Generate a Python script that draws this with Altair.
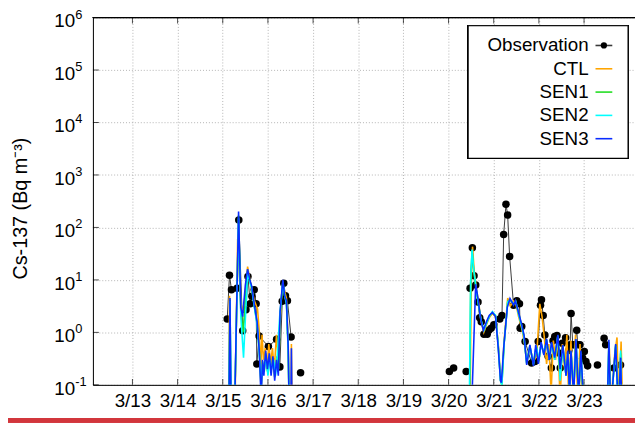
import altair as alt
import pandas as pd

# ---------------- data ----------------
obs_day = [15.099, 15.149, 15.193, 15.317, 15.355, 15.442, 15.514, 15.558, 15.608, 15.645,
           15.696, 15.739, 15.755, 15.805, 16.010, 16.192, 16.264, 16.317, 16.351, 16.389,
           16.432, 16.513,
           16.723,
           20.018, 20.112,
           20.390,
           20.477, 20.527, 20.564, 20.602, 20.652, 20.689, 20.724, 20.783, 20.855, 20.892,
           20.943, 21.002, 21.133, 21.183, 21.220, 21.271, 21.308, 21.352, 21.439, 21.511,
           21.570, 21.585, 21.620, 21.695, 21.839, 21.913, 21.985, 22.036, 22.057, 22.095,
           22.132, 22.204, 22.276, 22.313, 22.351, 22.401, 22.460, 22.473, 22.517, 22.591,
           22.663, 22.691, 22.713, 22.750, 22.787, 22.838, 22.860, 22.910, 22.969, 23.006,
           23.041, 23.079,
           23.297,
           23.444, 23.479,
           23.662,
           23.808]
obs_val = [1.8, 12.3, 6.5, 6.9, 139, 1.07, 2.7, 11.6, 3.5, 4.9,
           6.5, 3.5, 0.25, 0.85, 0.54, 0.74, 0.22, 3.9, 8.6, 5.0,
           4.0, 0.82,
           0.17,
           0.18, 0.21,
           0.18,
           6.9, 41, 12, 8, 3.8, 1.9, 1.6, 0.92, 0.92, 1.1,
           1.2, 1.4, 1.8, 2.1, 73, 277, 173, 28, 3.3, 4.0,
           3.5, 1.2, 1.3, 0.67, 0.26, 0.28, 0.67, 3.3, 4.2, 2.1,
           0.89, 0.35, 0.21, 0.69, 0.83, 0.87, 0.40, 0.21, 0.62, 0.79,
           0.45, 0.58, 2.3, 0.58, 0.58, 1.1, 0.58, 0.58, 0.32, 0.43,
           0.28, 0.23,
           0.24,
           0.77, 0.58,
           0.21,
           0.24]
obs_seg = [1] * 22 + [2] + [3, 3] + [4] + [5] * 52 + [6] + [7, 7] + [8] + [9]

ctl_day = [15.00, 15.13, 15.15, 15.18, 15.26, 15.33, 15.40, 15.46, 15.55, 15.62,
           15.70, 15.77, 15.81, 15.84, 15.87, 15.90, 15.94, 15.98, 16.02, 16.06,
           16.10, 16.14, 16.19, 16.23, 16.27, 16.32, 16.37, 16.41, 16.45, 16.48,
           16.51, 16.52, 16.54, 17.00,
           20.40, 20.47, 20.50, 20.53, 20.57, 20.62, 20.67, 20.72, 20.78, 20.84,
           20.90, 20.97, 21.04, 21.10, 21.15, 21.18, 21.23, 21.31, 21.37, 21.44,
           21.49, 21.55, 21.62, 21.67, 21.73, 21.80, 21.88, 21.95, 22.02, 22.07,
           22.12, 22.17, 22.22, 22.27, 22.32, 22.37, 22.42, 22.47, 22.52, 22.57,
           22.62, 22.66, 22.71, 22.76, 22.81, 22.86, 22.91, 22.96, 23.00, 23.50,
           23.56, 23.60, 23.68, 23.73, 23.77, 23.82, 23.87, 24.20]
ctl_val = [0.01, 0.01, 5.0, 0.01, 0.01, 60, 3.5, 2.5, 18, 8,
           4.0, 2.8, 1.0, 0.2, 0.9, 0.3, 0.5, 0.2, 0.6, 0.25,
           0.5, 0.2, 0.9, 0.3, 2.0, 8.0, 6.0, 4.5, 0.6, 0.01,
           0.01, 0.6, 0.01, 0.01,
           0.01, 0.01, 8, 43, 14, 6.5, 3.5, 1.6, 1.0, 1.4,
           1.9, 2.3, 2.0, 0.6, 0.15, 0.12, 0.7, 4.5, 3.2, 4.0,
           3.5, 2.0, 1.2, 0.7, 0.3, 0.5, 0.28, 0.35, 3.5, 2.0,
           0.8, 0.25, 0.6, 0.07, 0.7, 0.3, 0.8, 0.05, 0.6, 0.2,
           0.9, 0.05, 0.7, 0.05, 0.9, 0.05, 0.6, 0.04, 0.01, 0.01,
           0.5, 0.04, 0.4, 0.8, 0.04, 0.67, 0.01, 0.01]

sen1_day = [15.00, 15.13, 15.16, 15.19, 15.25, 15.35, 15.40, 15.45, 15.55, 15.60,
            15.64, 15.70, 15.76, 15.81, 15.85, 15.88, 15.92, 15.95, 15.99, 16.03,
            16.07, 16.11, 16.15, 16.20, 16.24, 16.27, 16.33, 16.37, 16.41, 16.45,
            16.48, 17.00,
            20.40, 20.46, 20.49, 20.52, 20.56, 20.61, 20.66, 20.72, 20.78, 20.84,
            20.90, 20.97, 21.04, 21.10, 21.15, 21.18, 21.23, 21.31, 21.36, 21.44,
            21.49, 21.55, 21.62, 21.67, 21.73, 21.80, 21.88, 21.94, 22.00, 22.05,
            22.11, 22.17, 22.23, 22.28, 22.35, 22.42, 22.47, 22.53, 22.60, 22.64,
            22.68, 22.71, 22.77, 22.82, 22.88, 22.93, 23.00, 23.05, 23.50, 23.55,
            23.59, 23.70, 23.76, 23.81, 23.85, 24.20]
sen1_val = [0.01, 0.01, 4.2, 0.01, 0.01, 170, 2.5, 1.0, 15, 9.5,
            7.3, 3.1, 1.5, 0.42, 0.08, 0.28, 0.18, 0.4, 0.18, 0.35,
            0.18, 0.32, 0.14, 0.35, 0.2, 2.2, 9.5, 5.0, 3.8, 0.45,
            0.01, 0.01,
            0.01, 0.01, 9, 36, 14, 6.5, 3.4, 1.7, 1.1, 1.5,
            2.0, 2.4, 2.1, 0.55, 0.12, 0.1, 0.6, 3.9, 4.2, 3.4,
            3.9, 2.3, 1.35, 0.85, 0.25, 0.56, 0.24, 0.56, 0.28, 0.62,
            0.38, 0.72, 0.3, 0.62, 0.32, 0.88, 0.15, 0.56, 0.15, 0.42,
            0.07, 0.43, 0.07, 0.72, 0.06, 0.42, 0.03, 0.01, 0.01, 0.65,
            0.03, 0.58, 0.03, 0.4, 0.01, 0.01]

sen2_day = [15.00, 15.13, 15.16, 15.19, 15.25, 15.35, 15.40, 15.46, 15.55, 15.60,
            15.64, 15.70, 15.76, 15.81, 15.85, 15.88, 15.92, 15.96, 16.00, 16.04,
            16.08, 16.13, 16.17, 16.21, 16.26, 16.33, 16.37, 16.41, 16.45, 16.48,
            17.00,
            20.40, 20.45, 20.49, 20.52, 20.56, 20.61, 20.66, 20.72, 20.78, 20.84,
            20.90, 20.97, 21.04, 21.10, 21.15, 21.18, 21.23, 21.31, 21.36, 21.44,
            21.49, 21.55, 21.62, 21.67, 21.73, 21.80, 21.88, 21.94, 22.00, 22.05,
            22.11, 22.17, 22.23, 22.28, 22.35, 22.42, 22.47, 22.53, 22.60, 22.64,
            22.68, 22.71, 22.77, 22.82, 22.88, 22.93, 23.00, 23.05, 23.50, 23.55,
            23.59, 23.70, 23.76, 23.81, 23.85, 24.20]
sen2_val = [0.01, 0.01, 4.0, 0.01, 0.01, 150, 2.0, 0.33, 14, 9,
            7.0, 3.0, 1.4, 0.4, 0.1, 0.25, 0.2, 0.35, 0.15, 0.3,
            0.2, 0.3, 0.15, 0.4, 2.0, 9.0, 5.0, 3.5, 0.4, 0.01,
            0.01,
            0.01, 0.01, 10, 38, 15, 7, 3.5, 1.7, 1.1, 1.5,
            2.0, 2.5, 2.1, 0.55, 0.12, 0.1, 0.6, 3.8, 4.2, 3.5,
            3.8, 2.2, 1.3, 0.8, 0.26, 0.55, 0.25, 0.55, 0.3, 0.6,
            0.4, 0.7, 0.3, 0.6, 0.3, 0.85, 0.12, 0.55, 0.15, 0.4,
            0.08, 0.42, 0.08, 0.7, 0.07, 0.4, 0.03, 0.01, 0.01, 0.6,
            0.03, 0.55, 0.03, 0.45, 0.01, 0.01]

sen3_day = [15.00, 15.13, 15.16, 15.19, 15.25, 15.35, 15.40, 15.44, 15.50, 15.55,
            15.60, 15.64, 15.70, 15.76, 15.81, 15.85, 15.88, 15.91, 15.95, 15.99,
            16.03, 16.07, 16.11, 16.15, 16.19, 16.23, 16.27, 16.33, 16.37, 16.41,
            16.45, 16.48, 16.50, 16.52, 16.54, 17.00,
            20.40, 20.49, 20.60, 20.65, 20.71, 20.77, 20.84, 20.90, 20.97, 21.04,
            21.10, 21.15, 21.17, 21.22, 21.30, 21.36, 21.44, 21.48, 21.55, 21.62,
            21.67, 21.73, 21.80, 21.88, 21.93, 21.99, 22.05, 22.11, 22.17, 22.23,
            22.28, 22.35, 22.42, 22.47, 22.53, 22.60, 22.64, 22.68, 22.71, 22.77,
            22.82, 22.88, 22.93, 23.00, 23.05, 23.50, 23.55, 23.59, 23.70, 23.76,
            23.81, 23.85, 24.20]
sen3_val = [0.01, 0.01, 4.5, 0.01, 0.01, 200, 3.0, 2.0, 8.0, 16,
            10, 7.7, 3.3, 1.6, 0.43, 0.05, 0.3, 0.15, 0.45, 0.2,
            0.4, 0.15, 0.35, 0.12, 0.3, 0.15, 2.5, 10, 5.0, 4.0,
            0.5, 0.01, 0.01, 0.5, 0.01, 0.01,
            0.01, 0.01, 8.3, 4.5, 1.8, 1.1, 1.6, 2.1, 2.4, 2.0,
            0.5, 0.12, 0.11, 0.5, 3.0, 4.4, 3.3, 4.0, 2.4, 1.4,
            0.9, 0.24, 0.58, 0.23, 0.58, 0.25, 0.65, 0.37, 0.75, 0.3,
            0.65, 0.33, 0.9, 0.2, 0.58, 0.15, 0.45, 0.06, 0.45, 0.06,
            0.75, 0.06, 0.45, 0.03, 0.01, 0.01, 0.72, 0.03, 0.6, 0.03,
            0.33, 0.01, 0.01]

series_names = ["CTL", "SEN1", "SEN2", "SEN3"]
series_colors = ["#ffa500", "#22dd22", "#00ffff", "#0a2cff"]
series_days = [ctl_day, sen1_day, sen2_day, sen3_day]
series_vals = [ctl_val, sen1_val, sen2_val, sen3_val]

day_ticks = [13, 14, 15, 16, 17, 18, 19, 20, 21, 22, 23]
day_labels = ["3/13", "3/14", "3/15", "3/16", "3/17", "3/18", "3/19", "3/20", "3/21", "3/22", "3/23"]
decades = [0.1, 1, 10, 100, 1000, 10000, 100000, 1000000]
exponents = ["-1", "0", "1", "2", "3", "4", "5", "6"]
legend_names = ["Observation", "CTL", "SEN1", "SEN2", "SEN3"]

# ---------------- layout constants ----------------
W, H = 549, 372
FONT = "Liberation Sans"
GRID = "#b4b4b4"

xscale = alt.Scale(domain=[12.125, 24.128], nice=False, zero=False)
yscale = alt.Scale(type="log", domain=[0.1, 1000000], nice=False)

label_map = "{" + ",".join(f"'{d}':'{l}'" for d, l in zip(day_ticks, day_labels)) + "}"
xaxis = alt.Axis(values=day_ticks, labelExpr=f"{label_map}[datum.value]", title=None,
                 grid=True, gridColor=GRID, gridDash=[1, 2], ticks=False, tickSize=0,
                 labelPadding=7, labelFontSize=19, labelFont=FONT, labelColor="black",
                 domainColor="black", domainWidth=1)
yaxis = alt.Axis(values=decades, labels=False, title="Cs-137 (Bq m⁻³)",
                 grid=True, gridColor=GRID, gridDash=[1, 2], ticks=False, tickSize=0,
                 domainColor="black", domainWidth=1, titleFont=FONT, titleFontSize=20,
                 titleFontWeight="normal", titleColor="black", titleAngle=270,
                 titleX=-73, titleY=193, titleAlign="center", titleBaseline="middle")


def X(field):
    return alt.X(field, type="quantitative", scale=xscale, axis=xaxis)


def Y(field):
    return alt.Y(field, type="quantitative", scale=yscale, axis=yaxis)


obs_df = pd.DataFrame({"day": obs_day, "val": obs_val, "seg": obs_seg})

obs_line = alt.Chart(obs_df).mark_line(color="#3a3a3a", strokeWidth=1, clip=True).encode(
    x=X("day"), y=Y("val"), detail="seg:N", order="day:Q")
obs_pts = alt.Chart(obs_df).mark_circle(color="black", size=58, opacity=1).encode(
    x=X("day"), y=Y("val"))

model_layers = []
for name, col, d, v in zip(series_names, series_colors, series_days, series_vals):
    df = pd.DataFrame({"day": d, "val": v})
    model_layers.append(
        alt.Chart(df).mark_line(color=col, strokeWidth=1.6, clip=True).encode(
            x=X("day"), y=Y("val"), order="day:Q"))

# inward ticks
xt_df = pd.DataFrame({"day": day_ticks})
yt_df = pd.DataFrame({"val": decades, "exp": exponents})
xticks_bottom = alt.Chart(xt_df).mark_tick(color="black", size=6, thickness=1).encode(
    x=X("day"), y=alt.value(H - 3))
xticks_top = alt.Chart(xt_df).mark_tick(color="black", size=6, thickness=1).encode(
    x=X("day"), y=alt.value(3))
yticks = alt.Chart(yt_df).mark_tick(color="black", size=6, thickness=1, orient="horizontal").encode(
    y=Y("val"), x=alt.value(3))

# y labels 10^n
ylab_base = alt.Chart(yt_df).mark_text(text="10", align="right", baseline="middle", dy=4,
                                       fontSize=19, font=FONT, color="black").encode(
    y=Y("val"), x=alt.value(-18))
ylab_exp = alt.Chart(yt_df).mark_text(align="left", baseline="middle", dy=-3,
                                      fontSize=13, font=FONT, color="black").encode(
    y=Y("val"), x=alt.value(-18), text="exp:N")

# top frame line
top_frame = alt.Chart(xt_df).mark_rule(color="black", strokeWidth=1).encode(
    x=alt.value(0), x2=alt.value(W + 2), y=alt.value(0))

# legend
leg_top = 28.3
leg_step = 23.6
leg_colors = ["#3a3a3a"] + series_colors
leg_df = pd.DataFrame({"name": legend_names,
                       "py": [leg_top + i * leg_step for i in range(len(legend_names))],
                       "col": leg_colors})
leg_box = alt.Chart(xt_df).mark_rect(fill="white", stroke="black", strokeWidth=1.2).encode(
    x=alt.value(380), x2=alt.value(542), y=alt.value(8.3), y2=alt.value(142.7))
leg_text = alt.Chart(leg_df).mark_text(align="right", baseline="middle", fontSize=19,
                                       font=FONT, color="black").encode(
    x=alt.value(502), y=alt.Y("py:Q", scale=None), text="name:N")
leg_lines = alt.Chart(leg_df).mark_rule(strokeWidth=1.6).encode(
    x=alt.value(509), x2=alt.value(526), y=alt.Y("py:Q", scale=None),
    color=alt.Color("col:N", scale=None))
leg_dot = alt.Chart(leg_df.iloc[:1]).mark_circle(color="black", size=40, opacity=1).encode(
    x=alt.value(517.5), y=alt.Y("py:Q", scale=None))

# red bar at the very bottom of the picture
red_bar = alt.Chart(xt_df).mark_rule(color="#d2363c", strokeWidth=4).encode(
    x=alt.value(-86), x2=alt.value(W), y=alt.value(H + 36))

chart = alt.layer(
    obs_line, obs_pts, *model_layers,
    xticks_bottom, xticks_top, yticks, ylab_base, ylab_exp, top_frame,
    leg_box, leg_text, leg_lines, leg_dot, red_bar
).properties(
    width=W, height=H, autosize="none",
    padding={"left": 86, "top": 7, "right": 0, "bottom": 38}
).configure_view(stroke=None).configure(background="white")

chart.save("out.html", embed_options={"renderer": "svg", "actions": False})
